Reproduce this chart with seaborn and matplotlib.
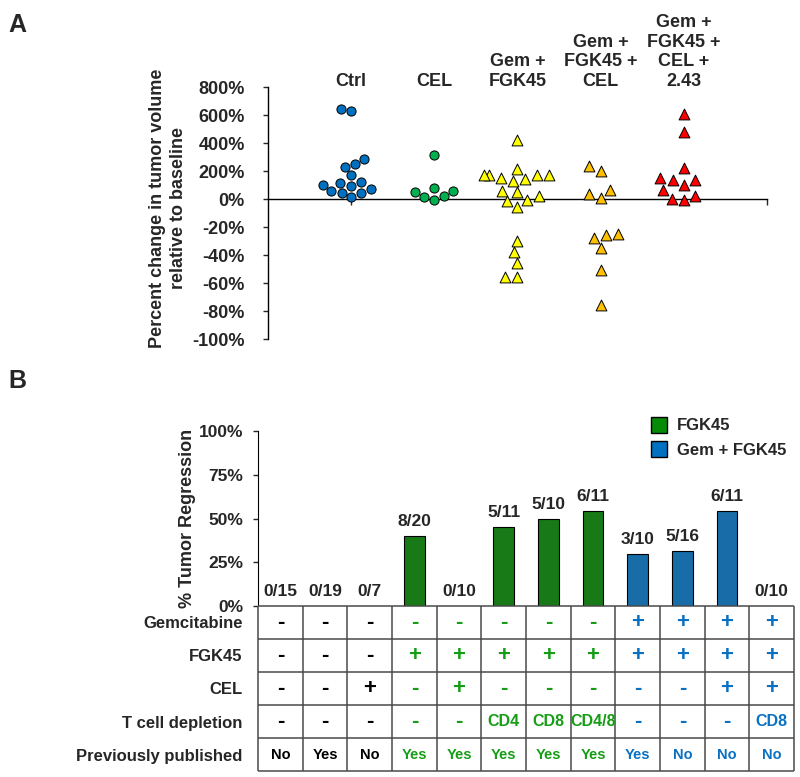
import numpy as np
import pandas as pd
import seaborn as sns
import matplotlib.pyplot as plt
from matplotlib.patches import Patch

sns.set_style("white")
plt.rcParams["font.family"] = ["Liberation Sans", "DejaVu Sans"]
plt.rcParams["font.weight"] = "bold"

# ---- panel A: percent change in tumor volume ----
groups = ["Ctrl", "CEL", "Gem +\nFGK45", "Gem +\nFGK45 +\nCEL", "Gem +\nFGK45 +\nCEL +\n2.43"]
ctrl = [643, 626, 283, 252, 228, 170, 120, 115, 103, 96, 72, 60, 43, 43, 12]
cel = [315, 77, 58, 53, 22, 17, -1]
gem_fgk = [422, 216, 175, 175, 175, 168, 150, 140, 127, 60, 48, 20,
           -0.5, -1.7, -5.8, -30, -38, -46, -56, -56]
gem_fgk_cel = [235, 199, 62, 38, 7, -25, -26, -28, -35, -51, -76]
gem_fgk_cel_243 = [607, 482, 223, 151, 139, 134, 103, 62, 19, 2, -1]
a_ticks = [-100, -80, -60, -40, -20, 0, 200, 400, 600, 800]

a_colors = ["#0070C0", "#00B050", "#FFFF00", "#FFC000", "#FF0000"]
a_markers = ["o", "o", "^", "^", "^"]

# ---- panel B: tumor regression ----
responders = [0, 0, 0, 8, 0, 5, 5, 6, 3, 5, 6, 0]
totals = [15, 19, 7, 20, 10, 11, 10, 11, 10, 16, 11, 10]
bar_group = ["Ctrl"] * 3 + ["FGK45"] * 5 + ["Gem + FGK45"] * 4
b_ticks = [0, 25, 50, 75, 100]

row_labels = ["Gemcitabine", "FGK45", "CEL", "T cell depletion", "Previously published"]
gemcitabine = ["-"] * 8 + ["+"] * 4
fgk45 = ["-"] * 3 + ["+"] * 9
cel_row = ["-", "-", "+", "-", "+", "-", "-", "-", "-", "-", "+", "+"]
tcell = ["-", "-", "-", "-", "-", "CD4", "CD8", "CD4/8", "-", "-", "-", "CD8"]
published = ["No", "Yes", "No", "Yes", "Yes", "Yes", "Yes", "Yes", "Yes", "No", "No", "No"]

green_bar, blue_bar = "#078A07", "#0070C0"
text_col = {"Ctrl": "black", "FGK45": "#159D15", "Gem + FGK45": "#0A70C2"}

fig = plt.figure(figsize=(8, 7.77), dpi=100)

# ================= A =================
axa = fig.add_axes([0.335, 0.5637, 0.62375, 0.3243])
fwd = lambda v: np.where(np.asarray(v) >= 0, np.asarray(v) / 10.0, np.asarray(v))
inv = lambda v: np.where(np.asarray(v) >= 0, np.asarray(v) * 10.0, np.asarray(v))
axa.set_yscale("function", functions=(fwd, inv))

series = [ctrl, cel, gem_fgk, gem_fgk_cel, gem_fgk_cel_243]
dfa = pd.DataFrame({"group": np.repeat(groups, [len(s) for s in series]),
                    "value": np.concatenate(series)})
for g, c, m in zip(groups, a_colors, a_markers):
    sns.swarmplot(data=dfa[dfa["group"] == g], x="group", y="value", order=groups,
                  marker=m, color=c, size=6.6 if m == "o" else 7.8,
                  edgecolor="black", linewidth=0.7, ax=axa, warn_thresh=1)

axa.set_xlim(-1, 5)
axa.set_ylim(-100, 800)
axa.set_yticks(a_ticks, [f"{t}%" for t in a_ticks])
axa.set_xticks([0, 5], ["", ""])
axa.set_xlabel("")
axa.set_ylabel("")
for s in ["top", "right"]:
    axa.spines[s].set_visible(False)
axa.spines["bottom"].set_position(("data", 0))
for s in ["left", "bottom"]:
    axa.spines[s].set_color("black")
    axa.spines[s].set_linewidth(1)
axa.tick_params(axis="y", direction="out", length=3.6, width=1, pad=13, labelsize=13, left=True)
axa.tick_params(axis="x", direction="out", length=4, width=1, bottom=True)
for lab in axa.get_yticklabels():
    lab.set_fontweight("bold")

for i, g in enumerate(groups):
    axa.annotate(g, xy=(i, 1), xycoords=("data", "axes fraction"), xytext=(0, -2),
                 textcoords="offset points", ha="center", va="bottom",
                 fontsize=13, fontweight="bold", linespacing=1.2)

fig.text(168 / 800, 1 - 208 / 777, "Percent change in tumor volume\nrelative to baseline",
         rotation=90, ha="center", va="center", fontsize=13, fontweight="bold", linespacing=1.25)
fig.text(8 / 800, 1 - 25 / 777, "A", fontsize=18, fontweight="bold", va="center")

# ================= B =================
axb = fig.add_axes([0.3225, 0.22, 0.67, 0.2252])
pct = [100.0 * r / t for r, t in zip(responders, totals)]
fracs = [f"{r}/{t}" for r, t in zip(responders, totals)]
dfb = pd.DataFrame({"cond": [str(i) for i in range(12)], "pct": pct, "group": bar_group})
sns.barplot(data=dfb, x="cond", y="pct", hue="group", dodge=False, width=0.47,
            palette={"Ctrl": "white", "FGK45": green_bar, "Gem + FGK45": blue_bar},
            edgecolor="black", linewidth=0.8, errorbar=None, legend=False, ax=axb)
for cont in axb.containers:
    bars = [p for p in cont if not np.isnan(p.get_height())]
    labs = [fracs[int(round(p.get_x() + p.get_width() / 2))] for p in bars]
    axb.bar_label(cont, labels=labs if len(bars) == len(cont) else None,
                  padding=5, fontsize=12.5, fontweight="bold")

axb.set_xlim(-0.5, 11.5)
axb.set_ylim(0, 100)
axb.set_yticks(b_ticks, [f"{t}%" for t in b_ticks])
axb.set_xticks([])
axb.set_xlabel("")
axb.set_ylabel("")
for s in ["top", "right", "bottom"]:
    axb.spines[s].set_visible(False)
axb.spines["left"].set_color("black")
axb.tick_params(axis="y", direction="out", length=3.6, width=1, pad=7, labelsize=12.5, left=True)
for lab in axb.get_yticklabels():
    lab.set_fontweight("bold")

handles = [Patch(facecolor=green_bar, edgecolor="black", label="FGK45"),
           Patch(facecolor=blue_bar, edgecolor="black", label="Gem + FGK45")]
axb.legend(handles=handles, loc="upper left", bbox_to_anchor=(0.72, 1.12), frameon=False,
           handlelength=1.0, handleheight=1.1, handletextpad=0.6,
           labelspacing=0.45, borderaxespad=0, prop={"weight": "bold", "size": 12})

fig.text(188 / 800, 1 - 518 / 777, "% Tumor Regression", rotation=90,
         ha="center", va="center", fontsize=13, fontweight="bold")
fig.text(8 / 800, 1 - 381 / 777, "B", fontsize=18, fontweight="bold", va="center")

# ---- table under the bars ----
axt = fig.add_axes([0.3225, 0.0077, 0.67, 0.2124])
axt.set_xlim(-0.5, 11.5)
axt.set_ylim(5, 0)
axt.hlines(range(6), -0.5, 11.5, color="#4a4a4a", lw=1.1, clip_on=False)
axt.vlines(np.arange(13) - 0.5, 0, 5, color="#4a4a4a", lw=1.1, clip_on=False)
for s in axt.spines.values():
    s.set_visible(False)
axt.set_xticks([])
axt.set_yticks(np.arange(5) + 0.5, row_labels)
axt.tick_params(axis="y", length=0, pad=11, labelsize=12)
for lab in axt.get_yticklabels():
    lab.set_fontweight("bold")

rows = [gemcitabine, fgk45, cel_row, tcell, published]
for r, row in enumerate(rows):
    for c, val in enumerate(row):
        col = text_col[bar_group[c]]
        if val in ("+", "-"):
            size = 16
        elif r == 4:
            size = 10.5
        else:
            size = 11.5
        axt.text(c, r + 0.5, val, ha="center", va="center", color=col,
                 fontsize=size, fontweight="bold")

fig.savefig("out.png", dpi=100)
